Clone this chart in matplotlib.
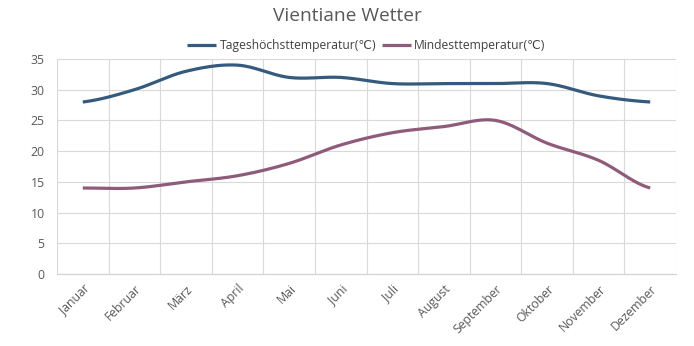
import numpy as np
import matplotlib
matplotlib.use("Agg")
import matplotlib.pyplot as plt

plt.rcParams['font.family'] = ['Open Sans', 'DejaVu Sans']

months = ["Januar", "Februar", "März", "April", "Mai", "Juni", "Juli",
          "August", "September", "Oktober", "November", "Dezember"]
high_temp = [28, 30, 33, 34, 32, 32, 31, 31, 31, 31, 29, 28]
low_temp = [14, 14, 15, 16, 18, 21, 23, 24, 25, 21.3, 18.5, 14]
yticks = [0, 5, 10, 15, 20, 25, 30, 35]

label_high = "Tageshöchsttemperatur(℃)"
label_low = "Mindesttemperatur(℃)"


def smooth(x, y, n=30):
    """Catmull-Rom curve through the given points."""
    x = np.asarray(x, float)
    y = np.asarray(y, float)
    px = np.concatenate([[2 * x[0] - x[1]], x, [2 * x[-1] - x[-2]]])
    py = np.concatenate([[y[0]], y, [y[-1]]])
    xs, ys = [], []
    for i in range(1, len(px) - 2):
        t = np.linspace(0, 1, n, endpoint=(i == len(px) - 3))
        p0, p1, p2, p3 = [np.array([px[j], py[j]]) for j in range(i - 1, i + 3)]
        c1 = p1 + (p2 - p0) / 6
        c2 = p2 - (p3 - p1) / 6
        b = ((1 - t) ** 3)[:, None] * p1 + (3 * (1 - t) ** 2 * t)[:, None] * c1 \
            + (3 * (1 - t) * t ** 2)[:, None] * c2 + (t ** 3)[:, None] * p2
        xs.append(b[:, 0])
        ys.append(b[:, 1])
    return np.concatenate(xs), np.concatenate(ys)


fig = plt.figure(figsize=(6.94, 3.46), dpi=100)
ax = fig.add_axes([57 / 694, 1 - 274 / 346, 619 / 694, 215 / 346])

x = np.arange(len(months))
c_high = "#345b7e"
c_low = "#8e5b7b"
sx, sy = smooth(x, high_temp)
ax.plot(sx, sy, color=c_high, lw=2.3, solid_capstyle='butt', label=label_high)
sx, sy = smooth(x, low_temp)
ax.plot(sx, sy, color=c_low, lw=2.3, solid_capstyle='butt', label=label_low)

ax.set_xlim(-0.5, len(months) - 0.5)
ax.set_ylim(0, 35)
ax.set_yticks(yticks)
ax.set_xticks(x)
ax.set_xticklabels(months, rotation=45, ha='right', rotation_mode='anchor')
ax.set_xticks(np.arange(-0.5, len(months), 1), minor=True)
ax.grid(True, axis='y', color='#d9d9d9', lw=0.8)
ax.grid(True, axis='x', which='minor', color='#d9d9d9', lw=0.8)
ax.set_axisbelow(True)
for s in ['top', 'right', 'left']:
    ax.spines[s].set_visible(False)
ax.spines['bottom'].set_color('#d0d0d0')
ax.tick_params(axis='both', which='both', length=0, colors='#595959', labelsize=8.8)
ax.tick_params(axis='x', pad=6)
ax.tick_params(axis='y', pad=9)

fig.text(0.5, 1 - 16 / 346, "Vientiane Wetter", ha='center', va='center',
         fontsize=13.8, color='#595959')
ax.legend(loc='center', bbox_to_anchor=(0.5, 1 + 13 / 215), ncol=2, frameon=False,
          fontsize=8.7, handlelength=2.4, columnspacing=0.4, handletextpad=0.3,
          labelcolor='#404040')

fig.savefig("out.png", dpi=100, facecolor='white')
